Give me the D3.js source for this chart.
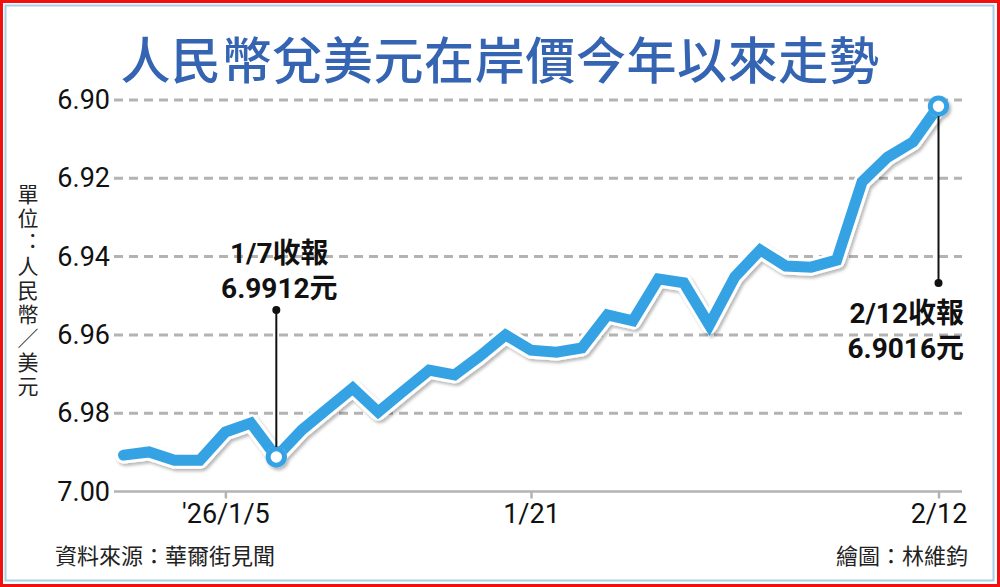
<!DOCTYPE html>
<html>
<head>
<meta charset="utf-8">
<script src="https://cdn.jsdelivr.net/npm/d3@7"></script>
<style>
  body { margin: 0; background: #fff; }
  svg { display: block; }
</style>
</head>
<body>
<svg id="chart" width="1000" height="587"></svg>
<script>
// + -- Data ------------------------------------------------------------------ +
const dates = ['12/26', '12/29', '12/30', '12/31', '1/5', '1/6', '1/7', '1/8', '1/9',
  '1/12', '1/13', '1/14', '1/15', '1/16', '1/19', '1/20', '1/21', '1/22', '1/23',
  '1/26', '1/27', '1/28', '1/29', '1/30', '2/2', '2/3', '2/4', '2/5', '2/6',
  '2/9', '2/10', '2/11', '2/12']
const rates = [6.9907, 6.9899, 6.9920, 6.9920, 6.9848, 6.9825, 6.9912, 6.9843, 6.9789,
  6.9736, 6.9797, 6.9743, 6.9690, 6.9702, 6.9654, 6.9600, 6.9639, 6.9644, 6.9633,
  6.9549, 6.9564, 6.9457, 6.9467, 6.9575, 6.9452, 6.9383, 6.9424, 6.9427, 6.9409,
  6.9209, 6.9146, 6.9107, 6.9016]
const yTicks = [6.90, 6.92, 6.94, 6.96, 6.98, 7.00]
const xTicks = ['1/5', '1/21', '2/12']
const xTickLabels = ["'26/1/5", '1/21', '2/12']
const callouts = [
  {date: '1/7', lines: ['1/7收報', '6.9912元']},
  {date: '2/12', lines: ['2/12收報', '6.9016元']}
]

const title = '人民幣兌美元在岸價今年以來走勢'
const unitLabel = '單位：人民幣／美元'
const sourceText = '資料來源：華爾街見聞'
const creditText = '繪圖：林維鈞'

const LINE_BLUE = '#36a3e3'
const GRID_GRAY = '#b3b3b3'
const NUM_FONT = 'Roboto, "Noto Sans CJK TC", sans-serif'
const CJK_FONT = '"Noto Sans CJK TC", sans-serif'

let svg = d3.select('#chart')

// + -- Frame ----------------------------------------------------------------- +
svg.append('rect')
  .attr('x', 0).attr('y', 0).attr('width', 1000).attr('height', 587)
  .attr('fill', '#fff')
svg.append('rect')
  .attr('x', 1.5).attr('y', 1.5).attr('width', 997).attr('height', 584)
  .attr('fill', 'none').attr('stroke', '#f01010').attr('stroke-width', 3)
svg.append('rect')
  .attr('x', 5.5).attr('y', 5.5).attr('width', 988).attr('height', 575)
  .attr('fill', 'none').attr('stroke', '#a8cfe4').attr('stroke-width', 2)

// + -- Scales ---------------------------------------------------------------- +
let x = d3.scalePoint().domain(dates).range([123.5, 938.5])
let y = d3.scaleLinear().domain([6.90, 7.00]).range([100, 491.5])

// + -- Title ----------------------------------------------------------------- +
svg.append('text')
  .text(title)
  .attr('x', 500).attr('y', 79)
  .attr('text-anchor', 'middle')
  .style('font-family', CJK_FONT)
  .style('font-size', '50px')
  .style('font-weight', 500)
  .style('letter-spacing', '0.6px')
  .attr('fill', '#3565b2')

// + -- Grid and y axis ------------------------------------------------------- +
let grid = svg.append('g')
grid.selectAll('line')
  .data(yTicks.filter(d => d < 7.00))
  .enter().append('line')
  .attr('x1', 114).attr('x2', 962)
  .attr('y1', d => y(d)).attr('y2', d => y(d))
  .attr('stroke', GRID_GRAY)
  .attr('stroke-width', 3)
  .attr('stroke-dasharray', '9,6')

let yAxis = svg.append('g')
  .attr('transform', 'translate(114,0)')
  .call(d3.axisLeft(y).tickValues(yTicks).tickFormat(d3.format('.2f')).tickSize(0).tickPadding(4))
yAxis.select('.domain').remove()
yAxis.selectAll('text')
  .style('font-family', NUM_FONT)
  .style('font-size', '27px')
  .attr('fill', '#111')

// unit label, set vertically (upright glyphs, no vertical alternates)
svg.append('text')
  .text(unitLabel)
  .attr('x', 28).attr('y', 184)
  .style('writing-mode', 'vertical-rl')
  .style('text-orientation', 'upright')
  .style('font-feature-settings', '"vert" 0, "vrt2" 0')
  .style('font-family', CJK_FONT)
  .style('font-size', '21px')
  .style('letter-spacing', '3px')
  .attr('fill', '#222')

// + -- X axis ---------------------------------------------------------------- +
let xAxis = svg.append('g')
  .attr('transform', 'translate(0,' + y(7.00) + ')')
  .call(d3.axisBottom(x).tickValues(xTicks).tickSize(7).tickPadding(5)
    .tickFormat((d, i) => xTickLabels[i]))
xAxis.select('.domain')
  .attr('d', 'M114,0H962')
  .attr('stroke', GRID_GRAY)
  .attr('stroke-width', 2.5)
xAxis.selectAll('.tick line')
  .attr('stroke', GRID_GRAY)
  .attr('stroke-width', 2.5)
xAxis.selectAll('.tick text')
  .style('font-family', NUM_FONT)
  .style('font-size', '27px')
  .attr('fill', '#111')

// + -- Line with white halo and shadow --------------------------------------- +
let defs = svg.append('defs')
let shadow = defs.append('filter').attr('id', 'shadow')
  .attr('x', '-10%').attr('y', '-10%').attr('width', '120%').attr('height', '120%')
shadow.append('feDropShadow')
  .attr('dx', 2).attr('dy', 2.5).attr('stdDeviation', 1.6)
  .attr('flood-color', '#000').attr('flood-opacity', 0.28)

let line = d3.line()
  .x((d, i) => x(dates[i]))
  .y(d => y(d))

let lineGroup = svg.append('g').attr('filter', 'url(#shadow)')
lineGroup.append('path')
  .attr('d', line(rates))
  .attr('fill', 'none')
  .attr('stroke', '#fff')
  .attr('stroke-width', 17)
  .attr('stroke-linejoin', 'round')
  .attr('stroke-linecap', 'round')
lineGroup.append('path')
  .attr('d', line(rates))
  .attr('fill', 'none')
  .attr('stroke', LINE_BLUE)
  .attr('stroke-width', 11)
  .attr('stroke-linejoin', 'miter')
  .attr('stroke-linecap', 'round')

// + -- Callouts -------------------------------------------------------------- +
function addCallout (c, lineTop, lineBottom, dotY, textX, textY, anchor) {
  let cx = x(c.date)
  let cy = y(rates[dates.indexOf(c.date)])
  let g = svg.append('g')
  g.append('line')
    .attr('x1', cx).attr('x2', cx)
    .attr('y1', lineTop).attr('y2', lineBottom)
    .attr('stroke', '#111').attr('stroke-width', 2)
  g.append('circle')
    .attr('cx', cx).attr('cy', dotY).attr('r', 4)
    .attr('fill', '#111')
  lineGroup.append('circle')
    .attr('cx', cx).attr('cy', cy).attr('r', 10.5)
    .attr('fill', '#fff')
  lineGroup.append('circle')
    .attr('cx', cx).attr('cy', cy).attr('r', 8.2)
    .attr('fill', '#fff')
    .attr('stroke', LINE_BLUE)
    .attr('stroke-width', 5)
  g.selectAll('text')
    .data(c.lines)
    .enter().append('text')
    .text(d => d)
    .attr('x', textX)
    .attr('y', (d, i) => textY + i * 35)
    .attr('text-anchor', anchor)
    .style('font-family', NUM_FONT)
    .style('font-size', '28px')
    .style('font-weight', 700)
    .attr('fill', '#111')
}

let c1x = x(callouts[0].date)
let c1y = y(rates[dates.indexOf(callouts[0].date)])
addCallout(callouts[0], 310, c1y - 10, 310, c1x + 3, 263, 'middle')
let c2y = y(rates[dates.indexOf(callouts[1].date)])
addCallout(callouts[1], c2y + 10, 283, 283, 964, 323, 'end')

// + -- Footer ---------------------------------------------------------------- +
svg.append('text')
  .text(sourceText)
  .attr('x', 55).attr('y', 564)
  .style('font-family', CJK_FONT)
  .style('font-size', '22px')
  .attr('fill', '#222')
svg.append('text')
  .text(creditText)
  .attr('x', 968).attr('y', 564)
  .attr('text-anchor', 'end')
  .style('font-family', CJK_FONT)
  .style('font-size', '22px')
  .attr('fill', '#222')
</script>
</body>
</html>
